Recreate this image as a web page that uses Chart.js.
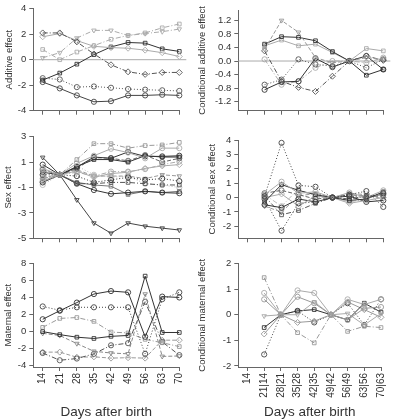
<!DOCTYPE html>
<html><head><meta charset="utf-8">
<script src="https://cdn.jsdelivr.net/npm/chart.js@4.4.0/dist/chart.umd.min.js"></script>
<style>
html,body{margin:0;padding:0;background:#fff;overflow:hidden}
#wrap{position:relative;width:395px;height:419px}
canvas{position:absolute;left:0;top:0}
</style></head><body><div id="wrap">
<canvas id="p1" width="395" height="419"></canvas>
<canvas id="p2" width="395" height="419"></canvas>
<canvas id="p3" width="395" height="419"></canvas>
<canvas id="p4" width="395" height="419"></canvas>
<canvas id="p5" width="395" height="419"></canvas>
<canvas id="p6" width="395" height="419"></canvas>
</div>
<script>
// ---------- categories & tick labels ----------
const DAYS = ['14','21','28','35','42','49','56','63','70'];
const COND_DAYS = ['14','21|14','28|21','35|28','42|35','49|42','56|49','63|56','70|63'];
const ADD_TICKS = [-4,-3,-2,-1,0,1,2,3,4];
const CADD_TICKS = [-1.2,-0.8,-0.4,0,0.4,0.8,1.2];
const SEX_TICKS = [-5,-4,-3,-2,-1,0,1,2,3];
const CSEX_TICKS = [-2,-1,0,1,2,3,4];
const MAT_TICKS = [-4,-2,0,2,4,6,8];
const CMAT_TICKS = [-2,-1,0,1,2];

// ---------- series values ----------
const ADD_VALUES = [
  [2.1, 2.1, 1.4, 0.45, -0.4, -0.95, -1.15, -1.0, -1.0],
  [1.8, 2.05, 1.5, 1.05, 0.95, 0.9, 0.75, 0.55, 0.25],
  [0.15, 0.55, 1.7, 2.3, 2.3, 1.9, 2.05, 2.2, 2.4],
  [0.8, 0.0, 0.6, 1.1, 1.6, 1.9, 2.1, 2.5, 2.8],
  [-1.6, -1.05, -0.35, 0.4, 1.0, 1.35, 1.3, 0.85, 0.65],
  [-1.45, -1.55, -2.15, -2.1, -2.2, -2.3, -2.35, -2.4, -2.45],
  [-1.75, -2.25, -2.8, -3.3, -3.25, -2.8, -2.8, -2.75, -2.8]
];
const CADD_VALUES = [
  [null, 0.35, 1.2, 0.85, 0.1, -0.05, 0, 0.1, 0.05],
  [null, 0.5, 0.72, 0.7, 0.6, 0.28, 0, -0.42, -0.25],
  [null, 0.45, 0.62, 0.45, 0.5, 0.25, 0, 0.37, 0.3],
  [null, 0.3, -0.6, -0.78, -0.9, -0.45, 0, 0.15, 0.02],
  [null, -0.7, -0.55, 0.05, -0.1, -0.15, 0, -0.2, 0.05],
  [null, -0.85, -0.62, -0.6, 0.08, -0.18, 0, 0.15, -0.25],
  [null, 0.05, -0.7, -0.6, -0.2, 0.0, 0, -0.05, 0.1]
];
const SEX_VALUES = [
  [0.3, 0, 1.2, 2.45, 2.45, 2.1, 2.3, 2.35, 2.55],
  [0.5, 0, 0.9, 1.5, 2.05, 1.75, 1.3, 2.1, 2.1],
  [0.8, 0, 0.6, 1.4, 1.3, 1.8, 1.45, 1.45, 1.5],
  [0.2, 0, 0.65, 1.2, 1.2, 1.0, 1.5, 1.4, 1.4],
  [0.4, 0, 0.5, 1.35, 1.3, 1.1, 1.55, 1.0, 1.3],
  [-0.3, 0, 0.2, -0.1, 0.25, 0.25, 0.45, 0.8, 1.05],
  [-0.5, 0, 0.3, -0.2, 0.1, 0.2, 0.5, 0.7, 0.8],
  [0.0, 0, -0.1, -0.6, -0.4, -0.2, -0.4, -0.3, -0.5],
  [-0.2, 0, 0.4, -0.1, -0.1, -0.1, -0.3, 0.0, -0.1],
  [-0.3, 0, -0.7, -0.7, -0.6, -0.6, -0.7, -0.8, -0.8],
  [-0.6, 0, -0.7, -1.2, -1.5, -1.4, -1.3, -1.4, -1.45],
  [-0.5, 0, -0.6, -0.8, -0.9, -1.55, -1.3, -1.4, -1.3],
  [1.37, 0, -1.97, -3.8, -4.6, -3.8, -4.05, -4.2, -4.35],
  [-0.8, 0, 0.7, 0.0, -0.2, -0.1, -0.7, -0.8, -1.0]
];
const CSEX_VALUES = [
  [null, 0.1, 3.8, 0.85, 0.75, 0, 0.2, 0.45, -0.65],
  [null, -0.1, -2.3, -0.4, -0.3, 0, 0.1, 0.0, 0.3],
  [null, 0.2, 1.1, 0.3, 0.4, 0, 0.35, 0.0, 0.5],
  [null, -0.3, 0.9, 0.5, 0.2, 0, -0.2, -0.1, 0.4],
  [null, 0.3, 0.5, 0.2, -0.1, 0, 0.2, 0.1, 0.2],
  [null, 0.0, 0.25, -0.6, 0.1, 0, -0.4, -0.2, 0.0],
  [null, -0.5, -0.7, -0.1, -0.3, 0, 0.1, -0.3, -0.2],
  [null, 0.1, -1.2, -0.9, -0.4, 0, -0.1, 0.1, 0.1],
  [null, -0.6, -1.0, 0.1, 0.3, 0, 0.3, 0.2, -0.1],
  [null, 0.2, -0.6, 0.6, 0.0, 0, -0.3, -0.1, 0.3]
];
const MAT_VALUES = [
  [1.45, 2.45, 3.4, 4.4, 4.75, 4.6, -0.6, 4.1, 4.0],
  [2.95, 2.5, 2.85, 2.85, 2.85, 2.85, -2.6, 3.8, 4.6],
  [0.0, -0.35, -0.65, -0.8, -0.55, -0.45, 6.5, -0.1, -0.1],
  [0.5, 1.55, 1.65, 1.2, -0.05, -0.15, -0.9, -1.3, -1.75],
  [-0.2, -0.45, -1.4, -2.3, -2.5, -2.6, 4.4, -2.9, -2.85],
  [-2.5, -3.35, -3.15, -2.6, -1.6, -1.35, 3.5, -1.2, -2.75],
  [-2.4, -2.4, -3.0, -2.95, -3.1, -3.05, -3.1, -1.0, -1.0]
];
const CMAT_VALUES = [
  [null, 1.45, 0, -0.7, -1.1, 0, -0.65, -0.45, -0.5],
  [null, 0.85, 0, 0.95, 0.85, 0, 0.6, 0.4, 0.6],
  [null, 0.6, 0, 0.7, 0.45, 0, -0.2, 0.25, 0.3],
  [null, -0.05, 0, 0.0, 0.5, 0, 0.05, -0.4, 0.05],
  [null, -0.5, 0, 0.15, 0.2, 0, -0.2, 0.45, 0.1],
  [null, -0.75, 0, -0.3, -0.25, 0, 0.5, 0.2, -0.1],
  [null, -1.55, 0, 0.15, -0.3, 0, 0.45, -0.4, 0.6]
];

// ---------- styles (marker, colour, dash) ----------
const DASH = {solid: [], dotted: [1, 2], dashdot: [5, 2, 1, 2], dashed: [4, 2]};
const ADD_STYLE = [['rectRot','#555','dashdot'],['rectRot','#aaa','solid'],['tri','#aaa','dashdot'],['rect','#aaa','dashdot'],['rect','#333','solid'],['circle','#555','dotted'],['circle','#444','solid']];
const CADD_STYLE = [['tri','#999','dashed'],['rect','#333','solid'],['rect','#aaa','solid'],['rectRot','#555','dashdot'],['circle','#555','dotted'],['circle','#333','solid'],['circle','#aaa','dashdot']];
const SEX_STYLE = [['rect','#999','dashdot'],['circle','#aaa','solid'],['circle','#333','solid'],['rect','#333','solid'],['circle','#666','dashed'],['circle','#aaa','dashdot'],['rectRot','#aaa','solid'],['circle','#333','dotted'],['tri','#999','dashed'],['rect','#555','dashdot'],['circle','#333','solid'],['rect','#777','solid'],['tri','#444','solid'],['circle','#bbb','dotted']];
const CSEX_STYLE = [['circle','#444','dotted'],['circle','#444','dotted'],['circle','#aaa','solid'],['rect','#333','solid'],['circle','#666','dashed'],['rectRot','#aaa','solid'],['circle','#333','solid'],['rect','#555','dashdot'],['tri','#999','dashed'],['circle','#bbb','dashdot']];
const MAT_STYLE = [['circle','#333','solid'],['circle','#444','dotted'],['rect','#333','solid'],['rect','#999','dashdot'],['tri','#888','dashed'],['circle','#555','dashdot'],['rectRot','#999','dashed']];
const CMAT_STYLE = [['rect','#999','dashdot'],['circle','#aaa','solid'],['circle','#999','solid'],['tri','#aaa','solid'],['rect','#333','solid'],['rectRot','#999','solid'],['circle','#444','dotted']];

// ---------- layout of each panel (pixels) ----------
const W = 395, H = 419;
const PANELS = [
  {id:'p1', vals:ADD_VALUES, sty:ADD_STYLE, ticks:ADD_TICKS, labels:DAYS, min:-4, max:4, title:'Additive effect', fmt:v=>String(v), zero:true, boxL:0, aL:33.3, aT:8.7, aR:179.3, aB:110.7, boxB:120, xlab:false, tpad:4},
  {id:'p2', vals:CADD_VALUES, sty:CADD_STYLE, ticks:CADD_TICKS, labels:COND_DAYS, min:-1.47, max:1.51, title:'Conditional additive effect', fmt:v=>v.toFixed(1), zero:true, boxL:195, aL:238.3, aT:10, aR:383.3, aB:110.7, boxB:120, xlab:false, tpad:2},
  {id:'p3', vals:SEX_VALUES, sty:SEX_STYLE, ticks:SEX_TICKS, labels:DAYS, min:-5, max:3, title:'Sex effect', fmt:v=>String(v), zero:false, boxL:0, aL:33.3, aT:136.7, aR:179.3, aB:238.3, boxB:248, xlab:false, tpad:3},
  {id:'p4', vals:CSEX_VALUES, sty:CSEX_STYLE, ticks:CSEX_TICKS, labels:COND_DAYS, min:-2.83, max:4, title:'Conditional sex effect', fmt:v=>String(v), zero:false, boxL:195, aL:238.3, aT:140, aR:383.3, aB:238.3, boxB:248, xlab:false, tpad:12},
  {id:'p5', vals:MAT_VALUES, sty:MAT_STYLE, ticks:MAT_TICKS, labels:DAYS, min:-4.14, max:8, title:'Maternal effect', fmt:v=>String(v), zero:false, boxL:0, aL:33.3, aT:263.3, aR:179.3, aB:367, boxB:419, xlab:true, tpad:3},
  {id:'p6', vals:CMAT_VALUES, sty:CMAT_STYLE, ticks:CMAT_TICKS, labels:COND_DAYS, min:-2.04, max:2, title:'Conditional maternal effect', fmt:v=>String(v), zero:false, boxL:195, aL:238.3, aT:263.5, aR:383.3, aB:367, boxB:419, xlab:true, tpad:2}
];

Chart.defaults.font.family = '"Liberation Sans", Arial, Helvetica, sans-serif';
Chart.defaults.color = '#333';

const zeroLine = {
  id: 'zeroLine',
  beforeDatasetsDraw(chart, args, opts) {
    if (!opts.on) return;
    const y = chart.scales.y.getPixelForValue(0);
    const ctx = chart.ctx, a = chart.chartArea;
    ctx.save();
    ctx.strokeStyle = '#aaa'; ctx.lineWidth = 1;
    ctx.beginPath(); ctx.moveTo(a.left, y); ctx.lineTo(a.right + 7, y); ctx.stroke();
    ctx.restore();
  }
};

PANELS.forEach(p => {
  const datasets = p.vals.map((vals, k) => {
    const [shape, col, dash] = p.sty[k];
    return {
      data: vals.map((v, i) => ({x: i, y: v})),
      borderColor: col, borderWidth: 1, borderDash: DASH[dash],
      backgroundColor: 'rgba(0,0,0,0)', fill: false, tension: 0,
      pointStyle: shape === 'tri' ? 'triangle' : shape,
      pointRotation: shape === 'tri' ? 180 : 0,
      pointRadius: shape === 'rectRot' ? 3 : 2.6,
      pointBorderColor: col, pointBorderWidth: 0.9,
      pointBackgroundColor: 'rgba(255,255,255,0)',
      clip: false, spanGaps: false
    };
  });
  new Chart(document.getElementById(p.id), {
    type: 'line',
    data: {datasets},
    plugins: [zeroLine],
    options: {
      responsive: false, animation: false, events: [],
      layout: {padding: {left: p.boxL, top: p.aT, right: W - p.aR, bottom: H - p.boxB}},
      plugins: {legend: {display: false}, tooltip: {enabled: false}, zeroLine: {on: p.zero}},
      scales: {
        x: {
          type: 'linear', min: -0.55, max: 8,
          afterBuildTicks: s => { s.ticks = p.labels.map((_, i) => ({value: i})); },
          afterFit: s => { s.height = p.boxB - p.aB; },
          ticks: {display: p.xlab, autoSkip: false, minRotation: 90, maxRotation: 90, padding: 2,
                  font: {size: 10}, color: '#333', callback: (v, i) => p.labels[i]},
          grid: {drawOnChartArea: false, drawTicks: true, tickLength: 4, color: '#666', lineWidth: 1},
          border: {display: true, color: '#666', width: 1},
          title: {display: p.xlab, text: 'Days after birth', font: {size: 13.5, lineHeight: 1}, color: '#333', padding: {top: 0, bottom: 0}}
        },
        y: {
          type: 'linear', min: p.min, max: p.max,
          afterBuildTicks: s => { s.ticks = p.ticks.map(v => ({value: v})); },
          afterFit: s => { s.width = p.aL - p.boxL; },
          ticks: {font: {size: 9.5}, color: '#333', padding: 3, callback: v => p.fmt(v)},
          grid: {drawOnChartArea: false, drawTicks: true, tickLength: 4, color: '#666', lineWidth: 1},
          border: {display: true, color: '#666', width: 1},
          title: {display: true, text: p.title, font: {size: 9.5, lineHeight: 1.2}, color: '#333', padding: {top: p.tpad, bottom: 0}}
        }
      }
    }
  });
});
</script>
</body></html>
